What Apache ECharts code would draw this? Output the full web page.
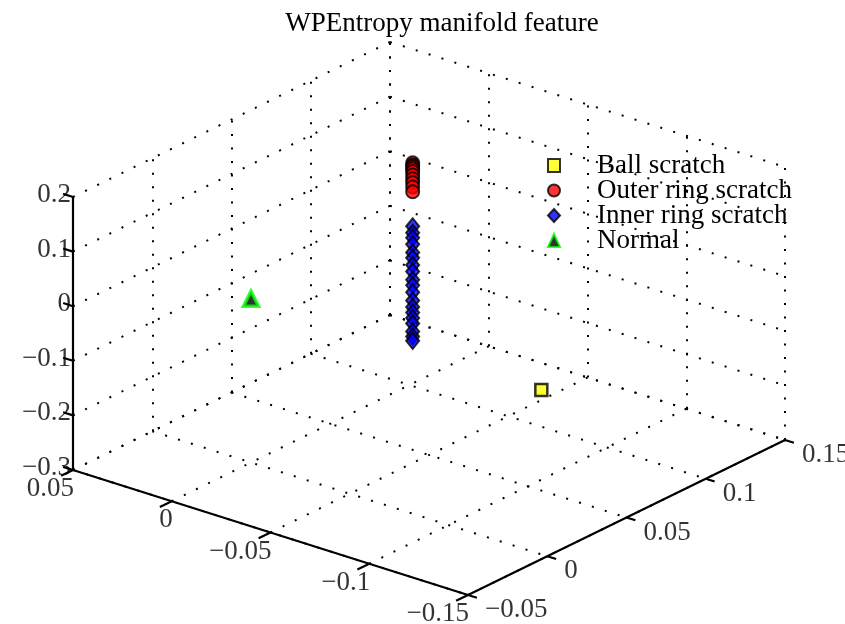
<!DOCTYPE html>
<html>
<head>
<meta charset="utf-8">
<script src="https://cdn.jsdelivr.net/npm/echarts@6/dist/echarts.min.js"></script>
<style>html,body{margin:0;padding:0;background:#fff}#c{width:845px;height:624px}</style>
</head>
<body>
<div id="c"></div>
<script>
// ---- data (3D) ----
const TITLE = 'WPEntropy manifold feature';
const SERIES_NAMES = ['Ball scratch', 'Outer ring scratch', 'Inner ring scratch', 'Normal'];

const ballX = [-0.147];
const ballY = [0.000];
const ballZ = [0.001];

const outerX = [0, 0, 0, 0, 0, 0, 0, 0, 0, 0];
const outerY = [0.102, 0.102, 0.102, 0.102, 0.102, 0.102, 0.102, 0.102, 0.102, 0.102];
const outerZ = [0.104, 0.100, 0.097, 0.093, 0.088, 0.082, 0.075, 0.068, 0.060, 0.051];

const innerX = [0, 0, 0, 0, 0, 0, 0, 0, 0, 0, 0, 0, 0, 0, 0, 0, 0, 0, 0];
const innerY = [0.102, 0.102, 0.102, 0.102, 0.102, 0.102, 0.102, 0.102, 0.102, 0.102, 0.102, 0.102, 0.102, 0.102, 0.102, 0.102, 0.102, 0.102, 0.102];
const innerZ = [-0.012, -0.024, -0.033, -0.045, -0.060, -0.070, -0.083, -0.095, -0.110, -0.120, -0.133, -0.148, -0.160, -0.170, -0.180, -0.190, -0.205, -0.214, -0.222];

const normalX = [0.000];
const normalY = [0.000];
const normalZ = [0.000];

// axis ticks
const X_TICKS = [-0.15, -0.1, -0.05, 0, 0.05];
const X_TICK_LABELS = ['\u22120.15', '\u22120.1', '\u22120.05', '0', '0.05'];
const Y_TICKS = [-0.05, 0, 0.05, 0.1, 0.15];
const Y_TICK_LABELS = ['\u22120.05', '0', '0.05', '0.1', '0.15'];
const Z_TICKS = [-0.3, -0.2, -0.1, 0, 0.1, 0.2];
const Z_TICK_LABELS = ['\u22120.3', '\u22120.2', '\u22120.1', '0', '0.1', '0.2'];

// ---- view / projection (orthographic, MATLAB-like default view) ----
const X_LIM = [-0.15, 0.05], Y_LIM = [-0.05, 0.15], Z_LIM = [-0.3, 0.2];
const ORIGIN = [73, 470];          // screen point of (xmax, ymin, zmin)
const EX = [-1975, -625];          // screen displacement per data unit of x
const EY = [1585, -775];           // per unit y
const EZ = [0, -546];              // per unit z
function P(x, y, z) {
  const dx = x - X_LIM[1], dy = y - Y_LIM[0], dz = z - Z_LIM[0];
  return [ORIGIN[0] + dx * EX[0] + dy * EY[0] + dz * EZ[0],
          ORIGIN[1] + dx * EX[1] + dy * EY[1] + dz * EZ[1]];
}
function pts(xs, ys, zs) { return xs.map((x, i) => P(x, ys[i], zs[i])); }
function seg(a, b) { return { coords: [P(a[0], a[1], a[2]), P(b[0], b[1], b[2])] }; }

// grid lines on back planes
const gridSegs = [];
X_TICKS.forEach(t => {
  gridSegs.push(seg([t, Y_LIM[0], Z_LIM[0]], [t, Y_LIM[1], Z_LIM[0]]));   // floor
  gridSegs.push(seg([t, Y_LIM[1], Z_LIM[0]], [t, Y_LIM[1], Z_LIM[1]]));   // back wall y=ymax
});
Y_TICKS.forEach(t => {
  gridSegs.push(seg([X_LIM[1], t, Z_LIM[0]], [X_LIM[0], t, Z_LIM[0]]));   // floor
  gridSegs.push(seg([X_LIM[1], t, Z_LIM[0]], [X_LIM[1], t, Z_LIM[1]]));   // back wall x=xmax
});
Z_TICKS.forEach(t => {
  gridSegs.push(seg([X_LIM[1], Y_LIM[0], t], [X_LIM[1], Y_LIM[1], t]));
  gridSegs.push(seg([X_LIM[1], Y_LIM[1], t], [X_LIM[0], Y_LIM[1], t]));
});

// solid axes + ticks
const axisSegs = [
  seg([X_LIM[1], Y_LIM[0], Z_LIM[0]], [X_LIM[0], Y_LIM[0], Z_LIM[0]]),
  seg([X_LIM[0], Y_LIM[0], Z_LIM[0]], [X_LIM[0], Y_LIM[1], Z_LIM[0]]),
  seg([X_LIM[1], Y_LIM[0], Z_LIM[0]], [X_LIM[1], Y_LIM[0], Z_LIM[1]])
];
const tickSegs = [];
X_TICKS.forEach(t => tickSegs.push(seg([t, Y_LIM[0], Z_LIM[0]], [t, Y_LIM[0] - 0.0075, Z_LIM[0]])));
Y_TICKS.forEach(t => tickSegs.push(seg([X_LIM[0], t, Z_LIM[0]], [X_LIM[0] - 0.0045, t, Z_LIM[0]])));
Z_TICKS.forEach(t => tickSegs.push(seg([X_LIM[1], Y_LIM[0], t], [X_LIM[1] + 0.005, Y_LIM[0], t])));

const FONT = 'Liberation Serif';
const FS = 27;
function labelSeries(ticks, labels, fn, align, offset) {
  return {
    type: 'scatter', symbolSize: 0, silent: true, z: 5,
    data: ticks.map((t, i) => ({ name: labels[i], value: fn(t) })),
    label: { show: true, formatter: '{b}', position: 'inside', offset: offset,
      align: align, verticalAlign: 'middle', color: '#000', fontFamily: FONT, fontSize: FS }
  };
}

const chart = echarts.init(document.getElementById('c'), null, { renderer: 'canvas' });
chart.setOption({
  animation: false,
  backgroundColor: '#fff',
  title: { text: TITLE, left: 437, top: 5, textAlign: 'center',
    textStyle: { fontFamily: FONT, fontSize: FS, fontWeight: 'normal', color: '#000' } },
  grid: { left: 0, right: 0, top: 0, bottom: 0 },
  xAxis: { type: 'value', min: 0, max: 845, show: false },
  yAxis: { type: 'value', min: 0, max: 624, inverse: true, show: false },
  legend: {
    orient: 'vertical', left: 547, top: 152, padding: 0, itemGap: -2,
    itemWidth: 12, itemHeight: 13,
    data: SERIES_NAMES,
    textStyle: { fontFamily: FONT, fontSize: FS, color: '#000', lineHeight: 23, padding: [0, 0, 0, 32] }
  },
  series: [
    { type: 'lines', coordinateSystem: 'cartesian2d', silent: true, z: 1,
      lineStyle: { color: '#000', width: 2, type: [2, 11.5], opacity: 1 }, data: gridSegs },
    { type: 'lines', coordinateSystem: 'cartesian2d', silent: true, z: 2,
      lineStyle: { color: '#000', width: 2.2, type: 'solid', opacity: 1 }, data: axisSegs.concat(tickSegs) },
    labelSeries(X_TICKS, X_TICK_LABELS, t => P(t, Y_LIM[0], Z_LIM[0]), 'right', [1, 19]),
    labelSeries(Y_TICKS, Y_TICK_LABELS, t => P(X_LIM[0], t, Z_LIM[0]), 'left', [17, 15]),
    labelSeries(Z_TICKS, Z_TICK_LABELS, t => P(X_LIM[1], Y_LIM[0], t), 'right', [-2, -2]),
    { name: SERIES_NAMES[0], type: 'scatter', z: 10, symbol: 'rect', symbolSize: 12,
      itemStyle: { color: '#ffff00', borderColor: '#000', borderWidth: 2.5 },
      data: pts(ballX, ballY, ballZ) },
    { name: SERIES_NAMES[1], type: 'scatter', z: 10, symbol: 'circle', symbolSize: 13,
      itemStyle: { color: '#ff0000', borderColor: '#000', borderWidth: 2 },
      data: pts(outerX, outerY, outerZ) },
    { name: SERIES_NAMES[2], type: 'scatter', z: 10, symbol: 'diamond', symbolSize: [13, 16],
      itemStyle: { color: '#0000ff', borderColor: '#000', borderWidth: 2 },
      data: pts(innerX, innerY, innerZ) },
    { name: SERIES_NAMES[3], type: 'scatter', z: 10, symbol: 'triangle', symbolSize: 15,
      itemStyle: { color: '#000', borderColor: '#00ff00', borderWidth: 3.5 },
      data: pts(normalX, normalY, normalZ) }
  ]
});
</script>
</body>
</html>
